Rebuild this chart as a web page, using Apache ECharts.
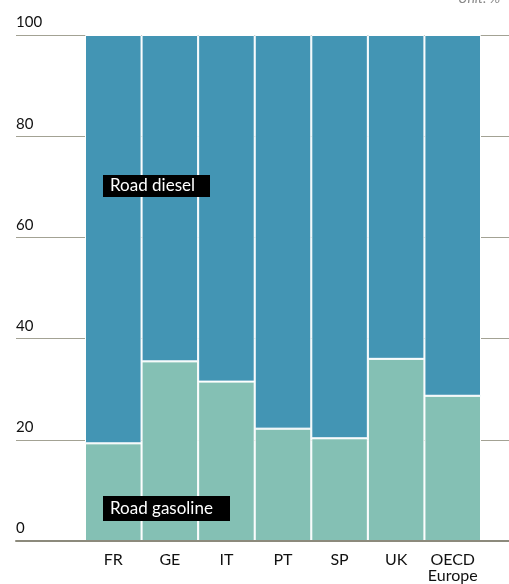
<!DOCTYPE html>
<html><head><meta charset="utf-8">
<script src="https://cdn.jsdelivr.net/npm/echarts@6/dist/echarts.min.js"></script>
<style>html,body{margin:0;padding:0;background:#fff}#c{width:509px;height:584px}</style>
</head><body><div id="c"></div>
<script>
var categories = ['FR', 'GE', 'IT', 'PT', 'SP', 'UK', 'OECD\nEurope'];
var gasoline = [19.3, 35.5, 31.5, 22.2, 20.3, 36.0, 28.7];
var diesel = [80.7, 64.5, 68.5, 77.8, 79.7, 64.0, 71.3];
var yTicks = [0, 20, 40, 60, 80, 100];

var FONT = 'Lato, "Noto Sans", sans-serif';
var chart = echarts.init(document.getElementById('c'), null, {renderer: 'canvas'});
chart.setOption({
  animation: false,
  grid: [
    {left: 16, right: 0, top: 35, bottom: 43},
    {left: 85, right: 28, top: 35, bottom: 43}
  ],
  xAxis: [
    {gridIndex: 0, type: 'value', min: 0, max: 1, z: 5,
     axisLine: {show: true, lineStyle: {color: '#8c8a7c', width: 2}},
     axisTick: {show: false}, axisLabel: {show: false}, splitLine: {show: false}},
    {gridIndex: 1, type: 'category', data: categories,
     axisLine: {show: false}, axisTick: {show: false},
     axisLabel: {interval: 0, color: '#111', fontFamily: FONT, fontSize: 16, margin: 11, lineHeight: 16}}
  ],
  yAxis: [
    {gridIndex: 0, type: 'value', min: 0, max: 100, interval: 20,
     axisLine: {show: false}, axisTick: {show: false},
     axisLabel: {inside: true, margin: 0, align: 'left', verticalAlign: 'bottom', padding: [0, 0, 5, 0],
       color: '#111', fontFamily: FONT, fontSize: 15,
       formatter: function (v) { return yTicks.indexOf(v) >= 0 ? String(v) : ''; }},
     splitLine: {show: true, lineStyle: {color: '#a3a294', width: 1}}},
    {gridIndex: 1, type: 'value', min: 0, max: 100, interval: 20, show: false, splitLine: {show: false}}
  ],
  series: [
    {name: 'Road gasoline', type: 'bar', xAxisIndex: 1, yAxisIndex: 1, stack: 's',
     data: gasoline, barCategoryGap: 0, itemStyle: {color: '#84c0b4', borderColor: '#fff', borderWidth: 1}},
    {name: 'Road diesel', type: 'bar', xAxisIndex: 1, yAxisIndex: 1, stack: 's',
     data: diesel, barCategoryGap: 0, itemStyle: {color: '#4395b4', borderColor: '#fff', borderWidth: 1}}
  ],
  graphic: [
    {type: 'text', left: 458, top: -9, z: 10,
     style: {text: 'Unit: %', fill: '#888', font: 'italic 14px ' + FONT}},
    {type: 'rect', left: 103, top: 175, z: 10, shape: {width: 107, height: 22}, style: {fill: '#000'}},
    {type: 'text', z: 11, x: 110, y: 186,
     style: {text: 'Road diesel', fill: '#fff', font: '17px ' + FONT, textAlign: 'left', textVerticalAlign: 'middle'}},
    {type: 'rect', left: 103, top: 496, z: 10, shape: {width: 127, height: 25}, style: {fill: '#000'}},
    {type: 'text', z: 11, x: 110, y: 508.5,
     style: {text: 'Road gasoline', fill: '#fff', font: '17px ' + FONT, textAlign: 'left', textVerticalAlign: 'middle'}}
  ]
});
</script></body></html>
